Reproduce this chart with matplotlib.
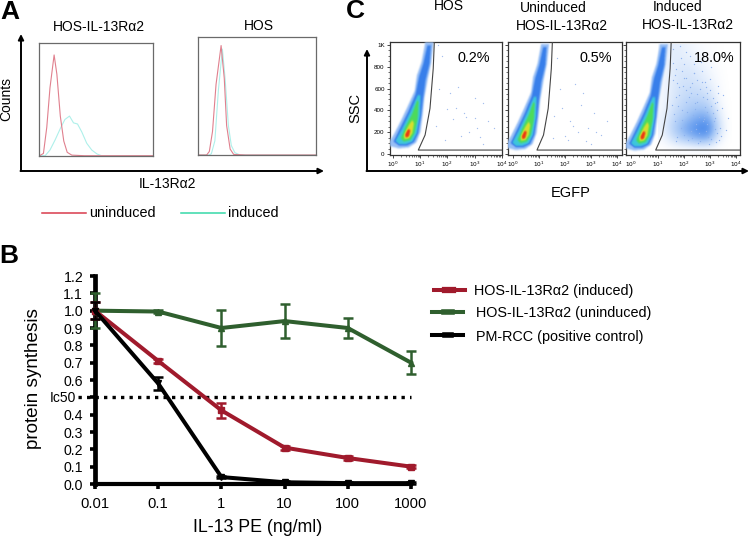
"""
Three panel figure: flow histograms (A), protein synthesis curves (B), EGFP density plots (C).
"""

import numpy as np
import matplotlib
matplotlib.use("Agg")
import matplotlib.pyplot as plt
from matplotlib.colors import LinearSegmentedColormap
from matplotlib.path import Path

plt.rcParams["font.family"] = ["Liberation Sans", "DejaVu Sans"]

W, H = 750, 537

# --- A: histograms ---
HIST_L_RED_X = [0, 1, 4.3, 7.2, 10, 13.6, 16, 19, 22, 25, 29, 40, 100]
HIST_L_RED_Y = [0, 0, 0.02, 0.25, 0.6, 0.89, 0.72, 0.35, 0.13, 0.03, 0.005, 0, 0]
HIST_L_TEAL_X = [0, 5.8, 10, 14.5, 19, 23, 27, 30.5, 34, 37.7, 42, 46.4, 51, 55, 100]
HIST_L_TEAL_Y = [0, 0, 0.05, 0.14, 0.24, 0.32, 0.35, 0.29, 0.28, 0.21, 0.11, 0.05, 0.015, 0, 0]
HIST_R_RED_X = [0, 7, 9.3, 12, 15, 19.3, 22, 24, 27, 30, 40, 100]
HIST_R_RED_Y = [0, 0, 0.03, 0.2, 0.6, 0.93, 0.65, 0.25, 0.05, 0.005, 0, 0]
HIST_R_TEAL_X = [0, 9, 11, 14, 17, 20.4, 22.7, 25.5, 28, 31, 35.4, 100]
HIST_R_TEAL_Y = [0, 0, 0.01, 0.12, 0.55, 0.9, 0.65, 0.25, 0.08, 0.02, 0, 0]

# --- B: dose response ---
DOSE = [0.01, 0.1, 1, 10, 100, 1000]
DOSE_LABELS = ["0.01", "0.1", "1", "10", "100", "1000"]
INDUCED = [1.0, 0.71, 0.425, 0.21, 0.15, 0.10]
INDUCED_ERR = [0.05, 0.012, 0.045, 0.012, 0.012, 0.01]
UNINDUCED = [1.0, 0.995, 0.90, 0.94, 0.90, 0.70]
UNINDUCED_ERR = [0.10, 0.01, 0.105, 0.10, 0.055, 0.065]
PMRCC = [1.0, 0.58, 0.04, 0.01, 0.005, 0.005]
PMRCC_ERR = [0.05, 0.04, 0.005, 0.005, 0.005, 0.005]
IC50 = 0.5

# --- C: density outlines, (log10 EGFP, SSC), outermost first ---
BLOB_LAYERS = [
    [(-.16, 115), (.01, 186), (.26, 306), (.52, 443), (.77, 580), (.85, 721), (1.02, 842),
     (1.16, 1024), (1.48, 1024), (1.40, 842), (1.27, 691), (1.14, 509), (1.08, 358),
     (1.00, 206), (.84, 105), (.56, 60), (.19, 50), (-.14, 72)],
    [(-.01, 115), (.26, 251), (.56, 403), (.81, 554), (.93, 706), (1.09, 827), (1.24, 994),
     (1.38, 994), (1.33, 827), (1.18, 675), (1.09, 509), (1.02, 357), (.91, 191),
     (.75, 109), (.50, 79), (.20, 79)],
    [(.07, 121), (.32, 236), (.62, 388), (.89, 539), (.99, 539), (.97, 357), (.85, 191),
     (.69, 115), (.44, 91), (.20, 91)],
    [(.26, 145), (.44, 251), (.69, 372), (.87, 494), (.92, 479), (.89, 327), (.77, 191),
     (.62, 130), (.38, 115)],
    [(.38, 176), (.56, 266), (.69, 312), (.75, 282), (.69, 191), (.56, 145), (.40, 139)],
    [(.42, 182), (.53, 230), (.62, 221), (.56, 160), (.45, 151)],
]
GATE_X = [4.2, 0.93, 1.18, 1.36, 1.48, 1.52]
GATE_Y = [39, 39, 176, 418, 783, 1024]
PANEL_SHIFT_X = [0.0, -0.10, -0.08]
PANEL_SHIFT_Y = [0, -15, -20]
PANEL_XLIM = [(-0.13, 4.03), (-0.2, 4.17), (-0.2, 4.12)]
C_TITLES = ["0.2%", "0.5%", "18.0%"]

DOTS_HOS_X = [1.7, 2.1, 2.0, 2.3, 2.6, 3.0, 3.3, 3.5, 3.1, 2.8, 2.5, 3.7, 1.9, 1.6, 3.3, 2.2, 2.7, 3.0, 1.8, 1.65, 3.2, 2.4]
DOTS_HOS_Y = [600, 560, 410, 420, 380, 510, 470, 300, 240, 200, 170, 240, 130, 260, 90, 320, 340, 330, 900, 1000, 160, 610]
DOTS_UN_X = [1.6, 1.9, 2.2, 2.4, 2.7, 2.9, 3.1, 3.4, 2.0, 2.5, 2.8, 1.7, 3.0, 2.3, 3.6, 1.8, 2.6, 2.1, 1.55, 3.2]
DOTS_UN_Y = [350, 420, 300, 640, 560, 240, 380, 180, 170, 200, 120, 880, 90, 260, 300, 600, 450, 130, 150, 200]

# induced panel: EGFP positive cloud, density read on a coarse grid (top row SSC=1000)
CLOUD_X = [1.0, 1.4, 1.8, 2.2, 2.6, 3.0, 3.4, 3.8]
CLOUD_Y = [1000, 900, 800, 700, 600, 500, 400, 300, 200, 100, 0]
CLOUD = [
    [.06, .16, .14, .08, .04, .02, .01, 0],
    [.06, .16, .16, .13, .08, .04, .01, 0],
    [.06, .16, .20, .20, .14, .07, .02, 0],
    [.06, .16, .23, .24, .19, .11, .03, 0],
    [.06, .17, .26, .30, .27, .19, .05, 0],
    [.06, .18, .30, .36, .36, .30, .07, 0],
    [.06, .24, .36, .46, .52, .46, .14, 0],
    [.10, .30, .46, .60, .72, .72, .24, 0],
    [.10, .36, .60, .78, .90, .92, .34, 0],
    [.05, .22, .40, .52, .66, .62, .14, 0],
    [0, 0, 0, 0, 0, 0, 0, 0],
]
DOTS_IN_X = [1.6, 1.9, 2.1, 2.4, 2.7, 3.0, 3.3, 3.5, 1.7, 2.0, 2.3, 2.6, 2.9, 3.2, 3.45, 1.8, 2.2, 2.5, 2.8, 3.1,
             1.55, 1.95, 2.35, 2.75, 3.15, 1.65, 2.05, 2.45, 2.85, 3.25, 1.75, 2.15, 2.55, 2.95, 3.35, 3.6, 3.7,
             1.85, 2.25, 2.65, 3.05, 1.6, 2.0, 2.4, 2.8, 1.7, 2.1, 2.5, 2.9, 3.3,
             1.72, 1.88, 2.02, 2.18, 2.33, 2.47, 2.62, 2.78, 2.93, 3.08, 3.22, 3.38, 1.62, 1.78, 1.93, 2.08,
             2.27, 2.42, 2.58, 2.72, 2.88, 3.03, 3.18, 3.42, 1.68, 1.83, 1.98, 2.12, 2.28, 2.43, 2.57, 2.73,
             2.87, 3.02, 3.17, 3.28, 1.58, 1.73, 1.92, 2.07, 2.22, 2.38, 2.52, 2.68, 2.83, 2.98, 3.12, 3.26]
DOTS_IN_Y = [960, 880, 930, 820, 760, 690, 620, 540, 780, 700, 650, 600, 560, 470, 420, 610, 520, 480, 430, 380,
             450, 400, 360, 320, 300, 300, 260, 230, 210, 190, 160, 130, 100, 90, 130, 220, 330,
             990, 900, 840, 800, 680, 820, 740, 660, 520, 590, 550, 500, 560,
             120, 240, 180, 310, 150, 280, 120, 350, 160, 260, 110, 240, 370, 440, 310, 480,
             210, 410, 190, 300, 390, 140, 330, 170, 720, 540, 620, 390, 560, 470, 340, 520,
             280, 440, 230, 400, 830, 650, 760, 700, 610, 740, 680, 660, 610, 590, 510, 480]

BLOB_CMAP = LinearSegmentedColormap.from_list("blob", [
    (0.70, 0.82, 0.97, 0.0), (0.55, 0.72, 0.96, 0.9), (0.22, 0.50, 0.92, 1.0), (0.24, 0.78, 0.86, 1.0),
    (0.30, 0.86, 0.36, 1.0), (0.85, 0.88, 0.18, 1.0), (0.92, 0.22, 0.08, 1.0),
])
CLOUD_CMAP = LinearSegmentedColormap.from_list("cloud", ["#ffffff", "#a4c6f6", "#2f78e8"])


def px_axes(left, top, right, bottom):
    # axes placed by figure pixels, measured from the top left
    return fig.add_axes([left / W, 1 - bottom / H, (right - left) / W, (bottom - top) / H])


def box_blur(a, n):
    k = np.ones(n) / n
    a = np.apply_along_axis(lambda r: np.convolve(r, k, mode="same"), 0, a)
    return np.apply_along_axis(lambda r: np.convolve(r, k, mode="same"), 1, a)


# sum of filled outlines, softened the way the scan softens it
gx, gy = np.meshgrid(np.linspace(-0.4, 2.0, 220), np.linspace(-20, 1040, 320))
grid_pts = np.column_stack([gx.ravel(), gy.ravel()])
blob_level = np.zeros(gx.shape)
for pts in BLOB_LAYERS:
    blob_level += Path(pts + [pts[0]]).contains_points(grid_pts).reshape(gx.shape)
blob_level = box_blur(box_blur(blob_level, 7), 3)

fig = plt.figure(figsize=(W / 100, H / 100), dpi=100)

# overlay for arrows and free text, in pixels
ov = fig.add_axes([0, 0, 1, 1], zorder=5)
ov.set_xlim(0, W)
ov.set_ylim(H, 0)
ov.axis("off")

# --- panel A ---
hist_panels = [
    ((38.5, 42.5, 153.3, 155.7), HIST_L_RED_X, HIST_L_RED_Y, HIST_L_TEAL_X, HIST_L_TEAL_Y),
    ((198.4, 37.3, 316, 155), HIST_R_RED_X, HIST_R_RED_Y, HIST_R_TEAL_X, HIST_R_TEAL_Y),
]
for box, rx, ry, tx, ty in hist_panels:
    ax = px_axes(*box)
    ax.plot(tx, ty, color="#aef0ea", lw=0.8)
    ax.plot(rx, ry, color="#e0808e", lw=0.8)
    ax.set_xlim(0, 100)
    ax.set_ylim(0, 1)
    ax.set_xticks([])
    ax.set_yticks([])
    for s in ax.spines.values():
        s.set_color("#6a6a6a")
        s.set_linewidth(0.9)

# --- panel B ---
ax = px_axes(95, 276, 411, 484)
ax.set_xscale("log")
ax.set_xlim(0.01, 1000)
ax.set_ylim(0, 1.2)
ax.plot([0.0054, 1000], [IC50, IC50], color="black", lw=2.4, ls=(0, (1.0, 1.55)), clip_on=False, zorder=1)
series = [
    (UNINDUCED, UNINDUCED_ERR, "#2f5f2e", "^"),
    (INDUCED, INDUCED_ERR, "#a01a2c", "s"),
    (PMRCC, PMRCC_ERR, "black", "v"),
]
for vals, errs, col, mk in series:
    ax.errorbar(DOSE, vals, yerr=errs, color=col, lw=2.9, marker=mk, ms=4.5, capsize=3.5,
                elinewidth=1.8, capthick=1.8, clip_on=False, zorder=3)
ax.spines["top"].set_visible(False)
ax.spines["right"].set_visible(False)
ax.spines["left"].set_linewidth(3.4)
ax.spines["bottom"].set_linewidth(3.0)
ax.set_xticks(DOSE)
ax.set_xticklabels(DOSE_LABELS, fontsize=10.6)
ax.minorticks_off()
yt = np.round(np.arange(0, 1.21, 0.1), 1)
ax.set_yticks(yt)
ax.set_yticklabels(["" if v == IC50 else f"{v:.1f}" for v in yt], fontsize=10.2)
ax.tick_params(axis="both", width=2.6, length=3.5)
ax.tick_params(axis="x", pad=6)
ax.tick_params(axis="y", pad=5)
ax.set_zorder(4)

# --- panel C ---
c_boxes = [(389.5, 42, 502.5, 155), (507.5, 42, 621.5, 155), (626, 42, 739.5, 155)]
dots = [(DOTS_HOS_X, DOTS_HOS_Y), (DOTS_UN_X, DOTS_UN_Y), (DOTS_IN_X, DOTS_IN_Y)]
for i, box in enumerate(c_boxes):
    ax = px_axes(*box)
    if i == 2:
        ax.imshow(CLOUD, cmap=CLOUD_CMAP, vmin=0, vmax=1, aspect="auto", interpolation="bicubic",
                  extent=[CLOUD_X[0], CLOUD_X[-1], CLOUD_Y[-1], CLOUD_Y[0]], zorder=1)
        ax.scatter(dots[i][0], dots[i][1], s=0.9, color="#8fb2ee", linewidths=0, zorder=2)
    else:
        ax.scatter(dots[i][0], dots[i][1], s=0.9, color="#a3bfee", linewidths=0, zorder=2)
    ax.imshow(blob_level, cmap=BLOB_CMAP, vmin=0, vmax=6, origin="lower", aspect="auto", interpolation="bilinear",
              extent=[-0.4 + PANEL_SHIFT_X[i], 2.0 + PANEL_SHIFT_X[i],
                      -20 + PANEL_SHIFT_Y[i], 1040 + PANEL_SHIFT_Y[i]], zorder=3)
    ax.plot(GATE_X, GATE_Y, color="#444444", lw=0.8, zorder=4)
    ax.set_xlim(*PANEL_XLIM[i])
    ax.set_ylim(-6, 1024)
    ax.set_xticks(range(5))
    ax.set_xticklabels([f"$10^{{{d}}}$" for d in range(5)], fontsize=4.2)
    minor = [d + np.log10(m) for d in range(4) for m in range(2, 10)]
    ax.set_xticks(minor, minor=True)
    ax.set_yticks([0, 200, 400, 600, 800, 1000])
    ax.set_yticks(range(0, 1001, 50), minor=True)
    if i == 0:
        ax.set_yticklabels(["0", "200", "400", "600", "800", "1K"], fontsize=4.5)
    else:
        ax.set_yticklabels([])
    ax.tick_params(axis="both", which="major", length=2.5, width=0.5, pad=1)
    ax.tick_params(axis="both", which="minor", length=1.2, width=0.4)
    for s in ax.spines.values():
        s.set_color("#333333")
        s.set_linewidth(0.9)

# --- arrows ---
arrow = dict(arrowstyle="-|>", color="black", lw=1.4, shrinkA=0, shrinkB=0, mutation_scale=8)
ov.annotate("", xy=(21, 34), xytext=(21, 171), arrowprops=arrow)
ov.annotate("", xy=(324, 171), xytext=(20.5, 171), arrowprops=arrow)
ov.annotate("", xy=(367, 49), xytext=(367, 171), arrowprops=arrow)
ov.annotate("", xy=(749, 171), xytext=(366.5, 171), arrowprops=arrow)

# --- legends ---
ov.plot([42, 86], [213, 213], color="#d83a4c", lw=1.1)
ov.plot([181, 225], [213, 213], color="#35d8a8", lw=1.1)
ov.plot([434, 465], [290, 290], color="#a01a2c", lw=2.9)
ov.plot([445, 453], [290, 290], color="#a01a2c", lw=4.5)
ov.plot([432, 463], [312, 312], color="#2f5f2e", lw=2.9)
ov.plot([444, 452], [312, 312], color="#2f5f2e", lw=4.0)
ov.plot([432, 463], [335, 335], color="black", lw=2.9)
ov.plot([445, 451], [335, 335], color="black", lw=4.0)

# --- text ---
def label(x, y, s, size=10.0, ha="center", **kw):
    ov.text(x, y, s, fontsize=size, ha=ha, va="center", **kw)


ALPHA_NAME = "HOS-IL-13R\u03b12"
label(10, 12, "A", 19, weight="bold")
label(9, 256, "B", 19, weight="bold")
label(355, 11, "C", 19, weight="bold")
label(99, 27, ALPHA_NAME)
label(259, 26, "HOS")
label(6, 99, "Counts", rotation=90)
label(168, 184, "IL-13R\u03b12")
label(89, 213, "uninduced", 10.4, ha="left")
label(228, 213, "induced", 10.4, ha="left")

label(34, 379, "protein synthesis", 13.6, rotation=90)
label(258, 527, "IL-13 PE (ng/ml)", 12.8)
label(63, 398, "Ic50", 10.0)
label(474, 291, ALPHA_NAME + " (induced)", 10.4, ha="left")
label(476, 313, ALPHA_NAME + " (uninduced)", 10.4, ha="left")
label(476, 337, "PM-RCC (positive control)", 10.4, ha="left")

label(449, 6, "HOS")
label(553, 8, "Uninduced")
label(562, 26, ALPHA_NAME)
label(678, 7, "Induced")
label(688, 25, ALPHA_NAME)
label(355, 108, "SSC", rotation=90, size=10.5)
label(571, 193, "EGFP", size=10.5)
label(474, 58, C_TITLES[0], 10.4)
label(596, 58, C_TITLES[1], 10.4)
label(714, 58, C_TITLES[2], 10.4)

fig.savefig("out.png", dpi=100)
